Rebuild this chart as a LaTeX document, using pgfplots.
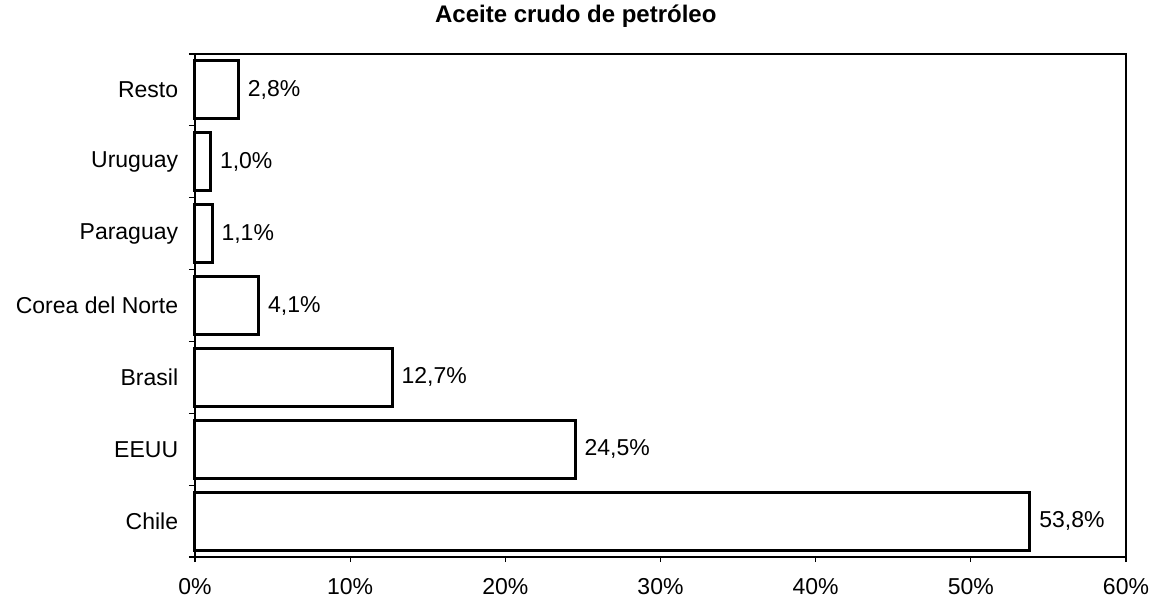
\documentclass[border=0pt]{standalone}
\usepackage{pgfplots}
\pgfplotsset{compat=1.18}
\usepackage{fontspec}
\setmainfont{Liberation Sans}
\begin{document}
\fontsize{23}{27}\selectfont
\begin{tikzpicture}
\path[use as bounding box] (-195pt,-43pt) rectangle (957pt,557pt);
\begin{axis}[
  at={(0pt,0pt)}, anchor=south west,
  scale only axis,
  width=931pt, height=503pt,
  xbar, bar width=58pt,
  xmin=0, xmax=60, ymin=-0.5, ymax=6.5,
  xtick={0,10,...,60},
  xticklabel={\pgfmathprintnumber{\tick}\%},
  /pgf/number format/assume math mode=true,
  ytick={0,...,6},
  yticklabels={Chile,EEUU,Brasil,Corea del Norte,Paraguay,Uruguay,Resto},
  minor ytick={-0.5,0.5,...,6.5},
  xtick pos=bottom, ytick pos=left,
  major y tick style={draw=none},
  minor y tick style={line width=1.2pt, black},
  minor tick length=6pt,
  tick align=outside,
  x tick style={line width=1.2pt, black},
  major tick length=5pt,
  yticklabel style={font=\fontsize{23}{27}\selectfont, xshift=-4pt},
  xticklabel style={font=\fontsize{23}{27}\selectfont, yshift=-9pt},
  axis line style={line width=2pt},
  title={\bfseries Aceite crudo de petróleo},
  title style={at={(rel axis cs:0.409,1.064)}, anchor=center, yshift=0pt, font=\fontsize{24}{28}\selectfont\bfseries},
  nodes near coords={\pgfmathprintnumber[fixed,fixed zerofill,precision=1,use comma]{\pgfplotspointmeta}\%},
  nodes near coords style={anchor=west, inner sep=0pt, xshift=8pt, font=\fontsize{23}{27}\selectfont},
  point meta=x,
  clip=false,
]
\addplot[draw=black, line width=3pt, fill=white] coordinates {
  (53.8,0) (24.5,1) (12.7,2) (4.1,3) (1.1,4) (1.0,5) (2.8,6)
};
\end{axis}
\end{tikzpicture}
\end{document}
